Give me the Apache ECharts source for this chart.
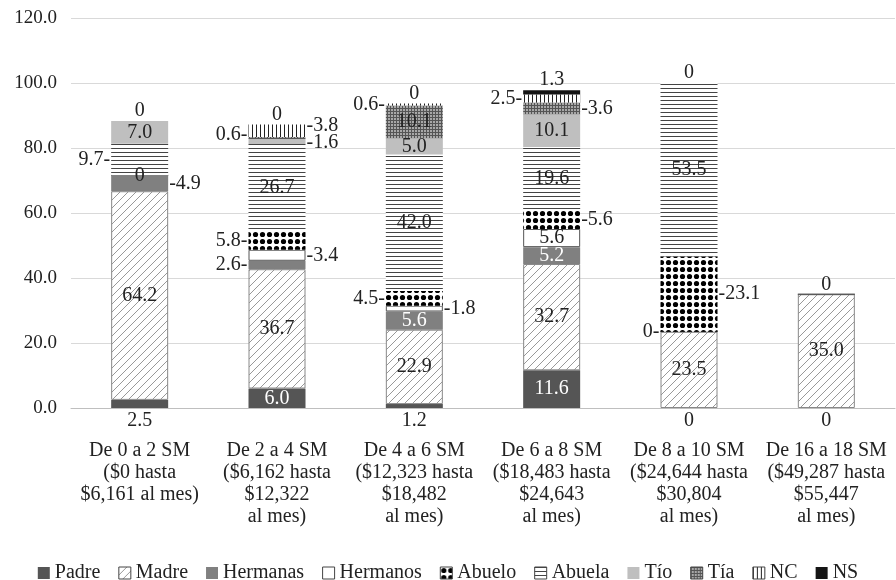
<!DOCTYPE html>
<html>
<head>
<meta charset="utf-8">
<script src="https://cdn.jsdelivr.net/npm/echarts@6/dist/echarts.min.js"></script>
<style>html,body{margin:0;padding:0;background:#fff;}#c{width:896px;height:580px;}</style>
</head>
<body>
<div id="c"></div>
<script>
const categories = [
  'De 0 a 2 SM\n($0 hasta\n$6,161 al mes)',
  'De 2 a 4 SM\n($6,162 hasta\n$12,322\nal mes)',
  'De 4 a 6 SM\n($12,323 hasta\n$18,482\nal mes)',
  'De 6 a 8 SM\n($18,483 hasta\n$24,643\nal mes)',
  'De 8 a 10 SM\n($24,644 hasta\n$30,804\nal mes)',
  'De 16 a 18 SM\n($49,287 hasta\n$55,447\nal mes)'
];
const seriesNames = ['Padre','Madre','Hermanas','Hermanos','Abuelo','Abuela','Tío','Tía','NC','NS'];
const padre    = [2.5, 6.0, 1.2, 11.6, 0, 0];
const madre    = [64.2, 36.7, 22.9, 32.7, 23.5, 35.0];
const hermanas = [4.9, 2.6, 5.6, 5.2, 0, 0];
const hermanos = [0, 3.4, 1.8, 5.6, 0, 0];
const abuelo   = [0, 5.8, 4.5, 5.6, 23.1, 0];
const abuela   = [9.7, 26.7, 42.0, 19.6, 53.5, 0];
const tio      = [7.0, 1.6, 5.0, 10.1, 0, 0];
const tia      = [0, 0.6, 10.1, 3.6, 0, 0];
const nc       = [0, 3.8, 0.6, 2.5, 0, 0];
const ns       = [0, 0, 0, 1.3, 0, 0];
const yTicks = [0, 20, 40, 60, 80, 100, 120];

// label placement (style only)
const labelPos = [
  ['bottom','insideW','bottom','insideW','bottom','bottom'],
  ['inside','inside','inside','inside','inside','inside'],
  ['right','left','insideW','insideW','left',null],
  ['inside','right','right','inside',null,null],
  [null,'left','left','right','right',null],
  ['left','inside','inside','inside','inside',null],
  ['inside','right','inside','inside',null,null],
  [null,'left','inside','right',null,null],
  [null,'right','left','left',null,null],
  ['top','top','top','top','top','top']
];
// small vertical nudges for crowded labels (style only)
const labelNudge = {'8-1': -5, '7-1': -3, '6-1': 1};
const legendBordered = ['Madre','Hermanos','Abuelo','Abuela','Tía','NC'];

function tile(w, h, draw) {
  const c = document.createElement('canvas');
  c.width = w; c.height = h;
  const g = c.getContext('2d');
  draw(g, w, h);
  return {image: c, repeat: 'repeat'};
}
const patMadre = tile(8, 8, (g) => {
  g.fillStyle = '#fff'; g.fillRect(0,0,8,8);
  g.strokeStyle = '#999'; g.lineWidth = 1;
  g.beginPath();
  g.moveTo(0,8); g.lineTo(8,0);
  g.moveTo(-1,1); g.lineTo(1,-1);
  g.moveTo(7,9); g.lineTo(9,7);
  g.stroke();
});
const patAbuelo = tile(7, 7, (g) => {
  g.fillStyle = '#fff'; g.fillRect(0,0,7,7);
  g.fillStyle = '#000';
  g.beginPath(); g.arc(3.5,3.5,2.6,0,Math.PI*2); g.fill();
});
const patAbuela = tile(4, 4, (g) => {
  g.fillStyle = '#fff'; g.fillRect(0,0,4,4);
  g.fillStyle = '#444'; g.fillRect(0,0,4,1);
});
const patTia = tile(3, 3, (g) => {
  g.fillStyle = '#a8a8a8'; g.fillRect(0,0,3,3);
  g.fillStyle = '#555'; g.fillRect(0,0,3,1); g.fillRect(0,0,1,3);
});
const patNC = tile(4, 4, (g) => {
  g.fillStyle = '#fff'; g.fillRect(0,0,4,4);
  g.fillStyle = '#222'; g.fillRect(0,0,1,4);
});

const styles = [
  {color: '#555555'},
  {color: patMadre, borderColor: '#888', borderWidth: 1},
  {color: '#808080'},
  {color: '#ffffff', borderColor: '#555', borderWidth: 1},
  {color: patAbuelo},
  {color: patAbuela},
  {color: '#bfbfbf'},
  {color: patTia},
  {color: patNC},
  {color: '#151515'}
];
const values = [padre, madre, hermanas, hermanos, abuelo, abuela, tio, tia, nc, ns];

const FONT = 'Liberation Serif';
function fmt(v) { return v === 0 ? '0' : v.toFixed(1); }

const series = seriesNames.map((name, si) => ({
  name: name,
  type: 'bar',
  stack: 'total',
  barWidth: 57,
  itemStyle: styles[si],
  emphasis: {disabled: true},
  data: values[si].map((v, ci) => {
    const pos = labelPos[si][ci];
    const item = {value: v};
    if (!pos) {
      item.label = {show: false};
    } else {
      let position = pos, text = fmt(v), color = '#222';
      if (pos === 'insideW') { position = 'inside'; color = '#fff'; }
      if (pos === 'left') text = text + '-';
      if (pos === 'right') text = '-' + text;
      item.label = {
        show: true, position: position, color: color,
        formatter: text,
        offset: [0, labelNudge[si + '-' + ci] || 0],
        distance: (pos === 'left' || pos === 'right') ? 1 : (pos === 'bottom' ? 3 : 0),
        fontFamily: FONT, fontSize: 20
      };
    }
    return item;
  })
}));

const legendData = seriesNames.map((n) => legendBordered.includes(n)
  ? {name: n, itemStyle: {borderColor: '#444', borderWidth: 1}}
  : {name: n});

const chart = echarts.init(document.getElementById('c'), null, {renderer: 'canvas'});
chart.setOption({
  animation: false,
  textStyle: {fontFamily: FONT},
  grid: {left: 71, right: 1, top: 18, bottom: 172, containLabel: false},
  legend: {
    data: legendData,
    top: 558, left: 'center',
    itemWidth: 12, itemHeight: 12, itemGap: 18,
    icon: 'rect',
    textStyle: {fontFamily: FONT, fontSize: 20, color: '#222'}
  },
  xAxis: {
    type: 'category',
    data: categories,
    axisTick: {show: false},
    axisLine: {lineStyle: {color: '#bfbfbf', width: 1}},
    axisLabel: {interval: 0, margin: 32, fontFamily: FONT, fontSize: 20, lineHeight: 22, color: '#222'}
  },
  yAxis: {
    type: 'value',
    min: yTicks[0], max: yTicks[yTicks.length - 1], interval: 20,
    axisLine: {show: false},
    axisTick: {show: false},
    splitLine: {lineStyle: {color: '#d9d9d9', width: 1}},
    axisLabel: {margin: 14, fontFamily: FONT, fontSize: 19, color: '#222',
      formatter: (v) => v.toFixed(1)}
  },
  series: series
});
</script>
</body>
</html>
